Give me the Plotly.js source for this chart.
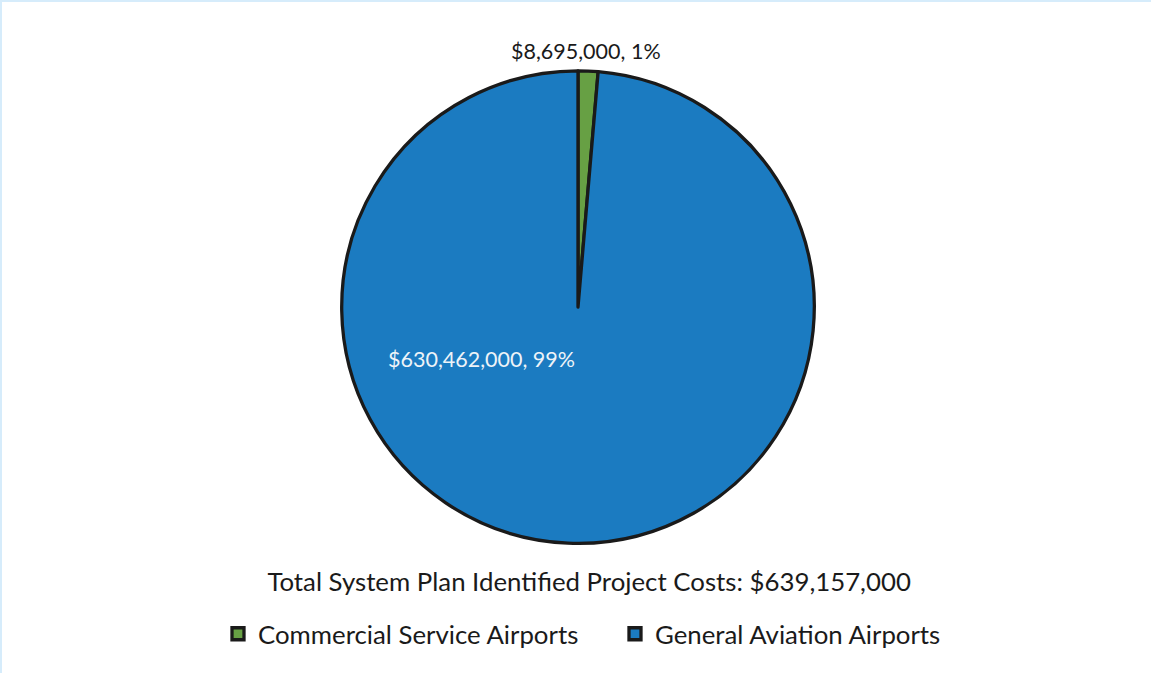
<!DOCTYPE html>
<html>
<head>
<meta charset="utf-8">
<script src="https://cdn.plot.ly/plotly-3.0.1.min.js"></script>
<style>
html,body{margin:0;padding:0;background:#fff;}
#chart{width:1151px;height:673px;box-sizing:border-box;border-top:2px solid #d6ecfb;border-left:2px solid #d6ecfb;}
</style>
</head>
<body>
<div id="chart"></div>
<script>
const categories = ["Commercial Service Airports", "General Aviation Airports"];
const costs = [8695000, 630462000];
const sliceColors = ["#67a044", "#1b7bc1"];
const totalLabel = "Total System Plan Identified Project Costs: ";

const total = costs.reduce((a, b) => a + b, 0);
const fmt = v => "$" + v.toLocaleString("en-US");
const FONT = "Lato, 'Open Sans', sans-serif";

const trace = {
  type: "pie",
  labels: categories,
  values: costs,
  sort: false,
  direction: "clockwise",
  rotation: 0,
  marker: {colors: sliceColors, line: {color: "#1a1a1a", width: 3.3}},
  textinfo: "none",
  hoverinfo: "label+value+percent",
  domain: {x: [0.2954, 0.7072], y: [0.1932, 0.8975]}
};

const pct = costs.map(v => Math.round(v / total * 100) + "%");

const layout = {
  width: 1149, height: 671,
  margin: {l: 0, r: 0, t: 0, b: 0},
  paper_bgcolor: "#ffffff",
  showlegend: true,
  font: {family: FONT, color: "#1a1a1a", size: 25},
  title: {
    text: totalLabel + fmt(total),
    font: {family: FONT, size: 25.8, color: "#1a1a1a"},
    x: 0.511, xanchor: "center",
    y: 1 - 580 / 671, yanchor: "middle"
  },
  legend: {
    orientation: "h",
    x: 0.5335, xanchor: "center",
    y: 1 - 632 / 671, yanchor: "middle",
    font: {family: FONT, size: 25.8, color: "#1a1a1a"},
    itemclick: false, traceorder: "normal",
    entrywidth: 352
  },
  annotations: [
    {
      text: fmt(costs[0]) + ", " + pct[0],
      xref: "paper", yref: "paper",
      x: 584 / 1149, y: 1 - 49 / 671,
      xanchor: "center", yanchor: "middle",
      showarrow: false,
      font: {family: FONT, size: 21.5, color: "#1a1a1a"}
    },
    {
      text: fmt(costs[1]) + ", " + pct[1],
      xref: "paper", yref: "paper",
      x: 479 / 1149, y: 1 - 357 / 671,
      xanchor: "center", yanchor: "middle",
      showarrow: false,
      font: {family: FONT, size: 21.5, color: "#eef3f8"}
    }
  ]
};

Plotly.newPlot("chart", [trace], layout, {displayModeBar: false, staticPlot: true});
</script>
</body>
</html>
